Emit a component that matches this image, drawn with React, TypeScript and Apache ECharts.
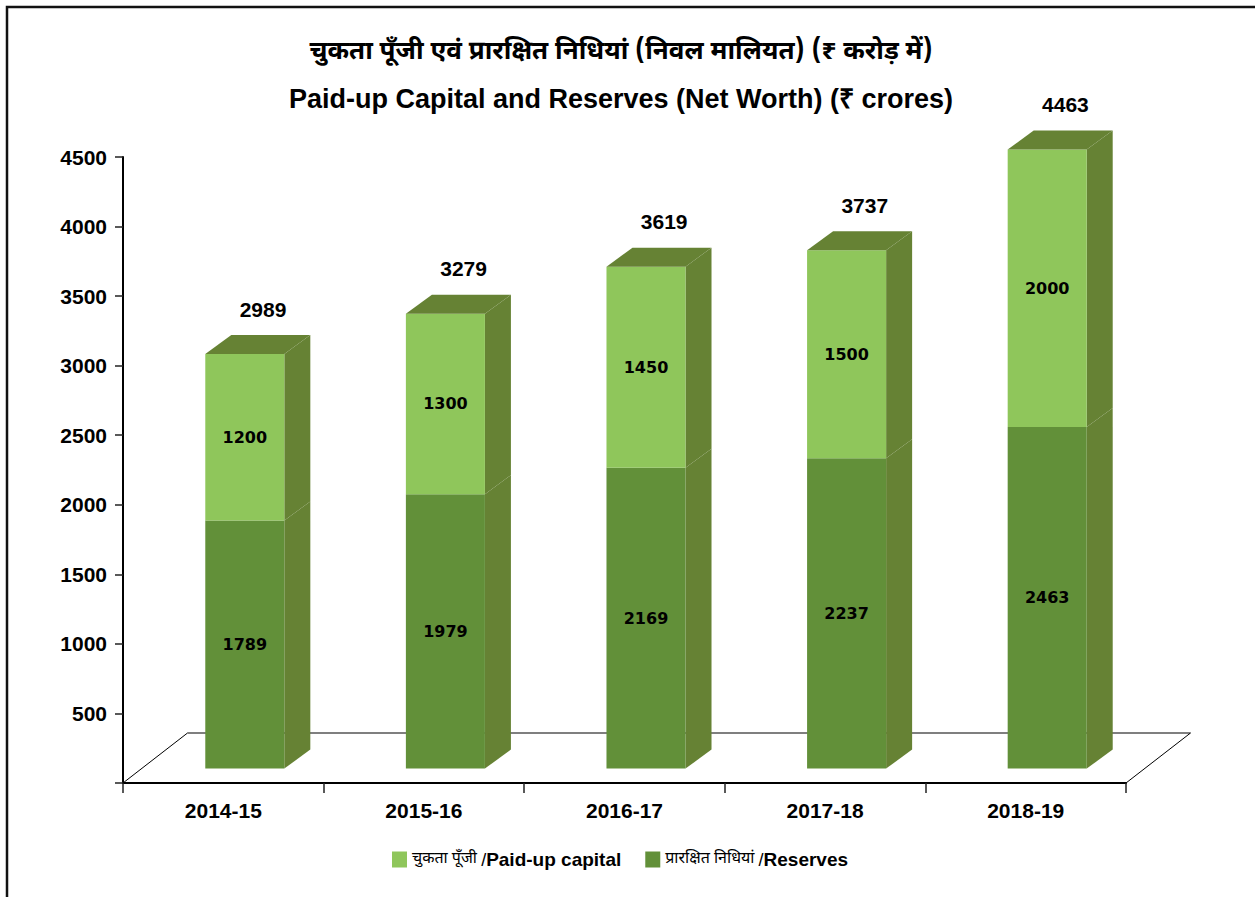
import React, { useEffect, useRef } from "react";
import * as echarts from "echarts";

const CATEGORIES = ["2014-15", "2015-16", "2016-17", "2017-18", "2018-19"];
const RESERVES = [1789, 1979, 2169, 2237, 2463];
const CAPITAL = [1200, 1300, 1450, 1500, 2000];
const Y_MIN = 0;
const Y_MAX = 4500;
const Y_INTERVAL = 500;

const TITLE_HI = "चुकता पूँजी एवं प्रारक्षित निधियां (निवल मालियत) (₹ करोड़ में)";
const TITLE_EN = "Paid-up Capital and Reserves (Net Worth) (₹ crores)";
const LEGEND_HI = ["चुकता पूँजी", "प्रारक्षित निधियां"];
const LEGEND_EN = ["Paid-up capital", "Reserves"];
const SERIES_NAMES = [
  LEGEND_HI[0] + " /" + LEGEND_EN[0],
  LEGEND_HI[1] + " /" + LEGEND_EN[1],
];

// styling / 3D geometry
const C_CAPITAL = "#8FC65B";
const C_RESERVES = "#629039";
const C_DARK = "#668234";
const BAR_RATIO = 0.394;
const OFF_X = 21.5;
const OFF_Y = -14.4;
const DX = 26;
const DY = -19;
const K = 0.997;
const FLOOR_DX = 64.5;
const FLOOR_DY = -50;
const LATIN = '"Liberation Sans", Arial, sans-serif';
const DEVA = '"Noto Sans Devanagari", "Lohit Devanagari", "Noto Sans", sans-serif';

function makeBarRender(isTop: boolean, color: string) {
  return (params: any, api: any) => {
    const i = api.value(0);
    const base = api.value(1);
    const val = api.value(2);
    const p0 = api.coord([i, 0]);
    const pb = api.coord([i, base]);
    const pt = api.coord([i, base + val]);
    const band = api.size([1, 0])[0];
    const w = band * BAR_RATIO;
    const cx = p0[0] + OFF_X;
    const baseY = p0[1] + OFF_Y;
    const yb = baseY - (p0[1] - pb[1]) * K;
    const yt = baseY - (p0[1] - pt[1]) * K;
    const x1 = cx - w / 2;
    const x2 = cx + w / 2;
    const children: any[] = [
      {
        type: "polygon",
        shape: { points: [[x2, yb], [x2 + DX, yb + DY], [x2 + DX, yt + DY], [x2, yt]] },
        style: { fill: C_DARK },
      },
      {
        type: "rect",
        shape: { x: x1, y: yt, width: w, height: yb - yt },
        style: { fill: color },
      },
      {
        type: "text",
        style: {
          x: cx,
          y: (yt + yb) / 2,
          text: String(val),
          align: "center",
          verticalAlign: "middle",
          font: 'bold 16px "DejaVu Sans", Verdana, sans-serif',
          fill: "#000",
        },
      },
    ];
    if (isTop) {
      children.push({
        type: "polygon",
        shape: { points: [[x1, yt], [x1 + DX, yt + DY], [x2 + DX, yt + DY], [x2, yt]] },
        style: { fill: C_DARK },
      });
      children.push({
        type: "text",
        style: {
          x: cx + DX * 0.7,
          y: yt - 45,
          text: String(base + val),
          align: "center",
          verticalAlign: "middle",
          font: "bold 21px " + LATIN,
          fill: "#000",
        },
      });
    }
    return { type: "group", children };
  };
}

function floorRender(params: any) {
  const cs = params.coordSys;
  const x0 = cs.x;
  const x1 = cs.x + cs.width;
  const y0 = cs.y + cs.height;
  return {
    type: "group",
    children: [
      {
        type: "line",
        shape: { x1: x0 + FLOOR_DX, y1: y0 + FLOOR_DY, x2: x1 + FLOOR_DX, y2: y0 + FLOOR_DY },
        style: { stroke: "#555", lineWidth: 1.5 },
      },
      {
        type: "line",
        shape: { x1: x0, y1: y0, x2: x0 + FLOOR_DX, y2: y0 + FLOOR_DY },
        style: { stroke: "#000", lineWidth: 1 },
      },
      {
        type: "line",
        shape: { x1: x1, y1: y0, x2: x1 + FLOOR_DX, y2: y0 + FLOOR_DY },
        style: { stroke: "#000", lineWidth: 1 },
      },
    ],
  };
}

export default function App() {
  const ref = useRef<HTMLDivElement>(null);
  useEffect(() => {
    if (!ref.current) return;
    const chart = echarts.init(ref.current, undefined, { renderer: "svg" });
    const reservesData = RESERVES.map((v, i) => [i, 0, v]);
    const capitalData = CAPITAL.map((v, i) => [i, RESERVES[i], v]);
    chart.setOption({
      animation: false,
      backgroundColor: "#fff",
      graphic: [
        {
          type: "rect",
          shape: { x: 7, y: 7, width: 1300, height: 950 },
          style: { fill: "none", stroke: "#111", lineWidth: 2.5 },
          z: -10,
          silent: true,
        },
        {
          type: "text",
          x: 621,
          y: 53,
          style: {
            text: TITLE_HI,
            align: "center",
            verticalAlign: "middle",
            font: "bold 26px " + DEVA,
            fill: "#000",
          },
        },
        {
          type: "text",
          x: 621,
          y: 99,
          style: {
            text: TITLE_EN,
            align: "center",
            verticalAlign: "middle",
            font: "bold 27px " + LATIN,
            fill: "#000",
          },
        },
      ],
      legend: {
        data: SERIES_NAMES,
        left: 387,
        top: 845,
        icon: "rect",
        itemWidth: 15,
        itemHeight: 16,
        itemGap: 24,
        selectedMode: false,
        formatter: (name: string) => {
          const idx = SERIES_NAMES.indexOf(name);
          return "{h|" + LEGEND_HI[idx] + " }{s|/}{e|" + LEGEND_EN[idx] + "}";
        },
        textStyle: {
          rich: {
            h: { fontFamily: DEVA, fontSize: 16, color: "#000" },
            s: { fontFamily: LATIN, fontSize: 18, color: "#000" },
            e: { fontFamily: LATIN, fontSize: 19, fontWeight: "bold", color: "#000" },
          },
        },
      },
      grid: { left: 123, right: 129, top: 157, bottom: 114, containLabel: false },
      xAxis: {
        type: "category",
        data: CATEGORIES,
        boundaryGap: true,
        axisLine: { show: true, lineStyle: { color: "#000", width: 2 } },
        axisTick: { show: true, length: 10, inside: false, lineStyle: { color: "#222", width: 1.5 } },
        axisLabel: {
          margin: 17,
          fontFamily: LATIN,
          fontWeight: "bold",
          fontSize: 21,
          color: "#000",
        },
        splitLine: { show: false },
      },
      yAxis: {
        type: "value",
        min: Y_MIN,
        max: Y_MAX,
        interval: Y_INTERVAL,
        axisLine: { show: true, lineStyle: { color: "#000", width: 2 } },
        axisTick: { show: true, length: 8, inside: false, lineStyle: { color: "#222", width: 1.5 } },
        axisLabel: {
          margin: 16,
          fontFamily: LATIN,
          fontWeight: "bold",
          fontSize: 21,
          color: "#000",
          formatter: (v: number) => (v === 0 ? "" : String(v)),
        },
        splitLine: { show: false },
      },
      series: [
        {
          type: "custom",
          name: "floor",
          silent: true,
          renderItem: floorRender,
          data: [[0, 0, 0]],
          z: 1,
        },
        {
          type: "custom",
          name: SERIES_NAMES[1],
          itemStyle: { color: C_RESERVES },
          renderItem: makeBarRender(false, C_RESERVES),
          encode: { x: 0, y: 2 },
          data: reservesData,
          z: 2,
        },
        {
          type: "custom",
          name: SERIES_NAMES[0],
          itemStyle: { color: C_CAPITAL },
          renderItem: makeBarRender(true, C_CAPITAL),
          encode: { x: 0, y: 2 },
          data: capitalData,
          z: 3,
        },
      ],
    });
    return () => chart.dispose();
  }, []);
  return (
    <div
      ref={ref}
      style={{ position: "absolute", left: 0, top: 0, width: 1255, height: 897 }}
    />
  );
}
